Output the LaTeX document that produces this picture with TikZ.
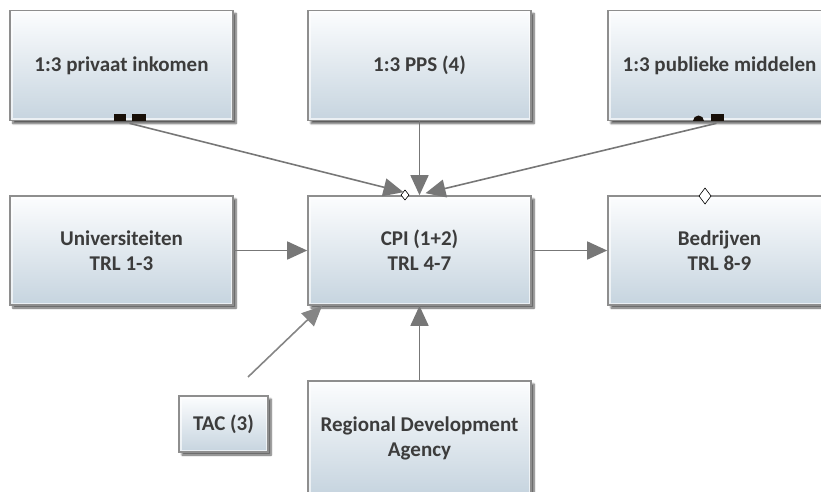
\documentclass[tikz,border=0pt]{standalone}
\usepackage{fontspec}
\setmainfont{Carlito}
\usetikzlibrary{arrows.meta,shadows.blur,calc}

\definecolor{boxtop}{HTML}{FCFDFE}
\definecolor{boxbot}{HTML}{C6D4DF}
\definecolor{boxline}{HTML}{8E8E8E}
\definecolor{txt}{HTML}{3C3C3C}
\definecolor{conn}{HTML}{777777}

\tikzset{
  panel/.style={draw=boxline, line width=1.6pt, top color=boxtop, bottom color=boxbot,
    minimum width=223pt, minimum height=110pt, inner sep=0pt, text=txt, align=center,
    font=\fontsize{21}{25}\selectfont\bfseries,
    path picture={\draw[white, opacity=.65, line width=5pt]
      (path picture bounding box.south west) rectangle (path picture bounding box.north east);},
    blur shadow={shadow xshift=3pt, shadow yshift=-3pt, shadow blur steps=6, shadow opacity=65}},
  link/.style={draw=conn, line width=1.6pt, -{Triangle[length=20pt,width=18pt]}},
  endmark/.style={fill=black!88!brown},
  pin/.style={draw=black, line width=0.6pt, fill=white},
}

\begin{document}
\begin{tikzpicture}[x=1pt, y=-1pt]
\useasboundingbox (0,0) rectangle (821,492);

% top row: sources of funding
\node[panel] (priv) at (121.5,65.5) {1:3 privaat inkomen};
\node[panel] (pps)  at (419.5,65.5) {1:3 PPS (4)};
\node[panel] (pub)  at (719.5,65.5) {1:3 publieke middelen};

% middle row: TRL chain
\node[panel, minimum height=109pt] (uni) at (121.5,250.5) {Universiteiten\\TRL 1-3};
\node[panel, minimum height=109pt] (cpi) at (419.5,250.5) {CPI (1+2)\\TRL 4-7};
\node[panel, minimum height=109pt] (bed) at (719.5,250.5) {Bedrijven\\TRL 8-9};

% bottom row
\node[panel, minimum width=89pt, minimum height=56pt] (tac) at (223.5,424) {TAC (3)};
\node[panel, minimum height=114pt] (rda) at (419.5,438) {Regional Development\\Agency};

% attachment points
\coordinate (privout) at ($(priv.south)+(8,2)$);
\coordinate (pubout)  at ($(pub.south)+(-3,2)$);
\coordinate (cpiinA)  at ($(cpi.north)+(-16,-3)$);
\coordinate (cpiinB)  at ($(cpi.north)+(6,-2)$);
\coordinate (tacfree) at (248,377);
\coordinate (cpicorner) at (322,306);

% small diamond under the incoming arrows
\draw[pin] (405,190) -- (409,195) -- (405,200) -- (401,195) -- cycle;

% connectors
\draw[link] (privout) -- (cpiinA);
\draw[link] (pps.south) -- (cpi.north);
\draw[link] (pubout) -- (cpiinB);
\draw[link] (uni.east) -- (cpi.west);
\draw[link] (cpi.east) -- (bed.west);
\draw[link] (rda.north) -- (cpi.south);
\draw[link, draw=conn!90] (tacfree) -- (cpicorner);

% line end markers
\fill[endmark] (114,114) rectangle (126,121);
\fill[endmark] (132,114) rectangle (146,121);
\fill[endmark] (693,121) arc[start angle=180, end angle=360, radius=5.5] -- cycle;
\fill[endmark] (711,114) rectangle (724,121);

% diamond on the Bedrijven edge
\draw[pin] (705,188) -- (711,196) -- (705,204) -- (699,196) -- cycle;
\end{tikzpicture}
\end{document}
